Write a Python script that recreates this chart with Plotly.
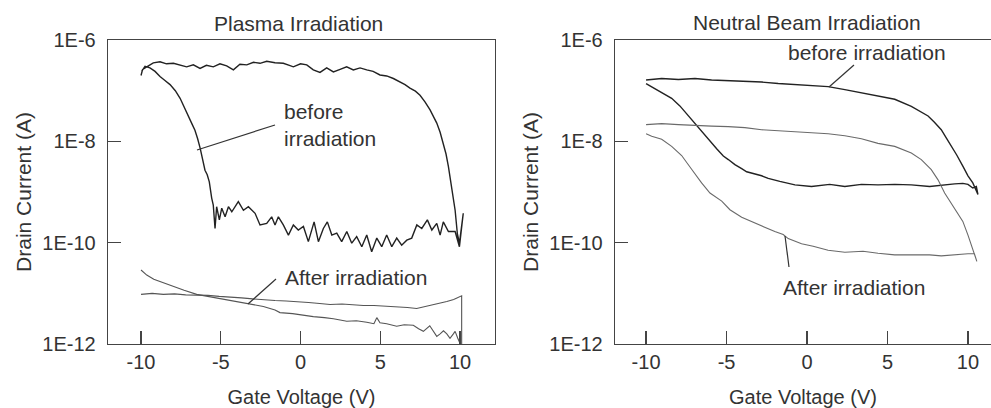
import plotly.graph_objects as go

# ---------------- data (gate voltage in V, drain current as log10(A)) ----------------
# Plasma irradiation, before irradiation: forward sweep (upper branch)
plasma_before_up_v = [-10.0, -9.9, -9.64, -9.23, -8.81, -8.4, -7.97, -7.55, -7.14, -6.72, -6.30, -5.9,
                      -5.47, -5.05, -4.63, -4.21, -3.8, -3.37, -2.95, -2.54, -2.12, -1.6, -1.08, -0.7,
                      -0.45, 0.0, 0.39, 0.80, 1.22, 1.64, 2.06, 2.48, 2.89, 3.31, 3.73, 4.15, 4.55,
                      4.98, 5.4, 5.82, 6.24, 6.55, 6.86, 7.2, 7.49, 7.8, 8.12, 8.33, 8.54, 8.75, 8.95,
                      9.12, 9.27, 9.48, 9.69, 9.83, 9.96]
plasma_before_up_logi = [-6.70, -6.58, -6.53, -6.45, -6.43, -6.47, -6.46, -6.50, -6.53, -6.49, -6.56, -6.50,
                         -6.53, -6.47, -6.51, -6.59, -6.48, -6.49, -6.44, -6.46, -6.42, -6.45, -6.46, -6.50,
                         -6.53, -6.47, -6.49, -6.59, -6.64, -6.55, -6.63, -6.58, -6.53, -6.59, -6.55, -6.59,
                         -6.62, -6.69, -6.71, -6.76, -6.82, -6.88, -6.95, -7.01, -7.09, -7.22, -7.38, -7.50,
                         -7.64, -7.82, -8.04, -8.25, -8.50, -8.89, -9.36, -9.82, -10.01]
# reverse sweep (lower, noisy branch, then the steep rise back to -10 V)
plasma_before_down_v = [10.2, 10.1, 9.96, 9.69, 9.27, 8.95, 8.75, 8.54, 8.23, 7.95, 7.60, 7.29, 6.97, 6.66,
                        6.34, 6.03, 5.72, 5.40, 5.09, 4.78, 4.46, 4.15, 3.84, 3.52, 3.21, 2.90, 2.58, 2.27,
                        1.96, 1.68, 1.43, 1.12, 0.85, 0.49, 0.18, -0.14, -0.45, -0.76, -1.08, -1.39, -1.60,
                        -1.81, -2.12, -2.54, -2.85, -3.27, -3.58, -3.90, -4.31, -4.52, -4.73, -4.94, -5.09,
                        -5.26, -5.36, -5.47,
                        -5.57, -5.72, -5.85, -5.99, -6.12, -6.29, -6.45, -6.62, -6.80, -6.95, -7.15, -7.35,
                        -7.55, -7.85, -8.18, -8.50, -8.81, -9.12, -9.44, -9.75, -9.96]
plasma_before_down_logi = [-9.42, -9.75, -10.08, -9.78, -9.78, -9.59, -9.85, -9.62, -9.75, -9.55, -9.72, -9.65,
                           -9.91, -9.95, -10.05, -9.91, -10.08, -9.85, -10.08, -9.91, -10.18, -9.85, -10.08,
                           -9.88, -10.01, -9.78, -9.98, -9.81, -9.85, -9.59, -9.72, -9.98, -9.59, -9.98, -9.68,
                           -9.75, -9.65, -9.85, -9.65, -9.49, -9.65, -9.49, -9.62, -9.65, -9.42, -9.29, -9.36,
                           -9.19, -9.39, -9.29, -9.49, -9.32, -9.55, -9.29, -9.72, -9.26,
                           -9.12, -8.80, -8.66, -8.57, -8.35, -8.14, -7.95, -7.78, -7.66, -7.56, -7.42, -7.28,
                           -7.15, -7.00, -6.88, -6.80, -6.72, -6.62, -6.55, -6.52, -6.62]

# Plasma irradiation, after irradiation (two sweeps)
plasma_after_a_v = [-10.0, -9.64, -9.2, -8.6, -7.97, -7.3, -6.51, -5.8, -5.0, -4.42, -3.6, -2.96, -2.33,
                    -1.6, -1.29, -0.5, 0.2, 0.8, 1.5, 2.06, 2.9, 3.5, 4.15, 4.6, 4.78, 4.98, 5.4, 6.03,
                    6.5, 7.07, 7.4, 7.7, 8.1, 8.54, 8.75, 8.96, 9.17, 9.37, 9.58, 9.69, 9.85, 10.0]
plasma_after_a_logi = [-10.54, -10.64, -10.72, -10.79, -10.87, -10.94, -11.02, -11.06, -11.10, -11.13,
                       -11.18, -11.21, -11.26, -11.33, -11.38, -11.40, -11.44, -11.46, -11.48, -11.50,
                       -11.55, -11.54, -11.57, -11.60, -11.48, -11.58, -11.60, -11.65, -11.62, -11.63,
                       -11.70, -11.75, -11.64, -11.85, -11.80, -11.74, -11.80, -11.89, -11.80, -11.75,
                       -11.88, -11.99]
plasma_after_b_v = [-10.0, -9.3, -8.6, -7.9, -7.2, -6.51, -5.8, -5.1, -4.42, -3.7, -3.0, -2.33, -1.6,
                    -0.9, -0.24, 0.5, 1.2, 1.85, 2.6, 3.3, 3.94, 4.6, 5.3, 6.03, 6.7, 7.28, 7.7, 8.12,
                    8.6, 9.17, 9.6, 10.1, 10.1]
plasma_after_b_logi = [-11.02, -11.00, -11.02, -11.01, -11.03, -11.03, -11.04, -11.06, -11.07, -11.09,
                       -11.11, -11.13, -11.14, -11.15, -11.16, -11.18, -11.20, -11.22, -11.21, -11.23,
                       -11.24, -11.24, -11.25, -11.26, -11.28, -11.30, -11.27, -11.24, -11.21, -11.16,
                       -11.12, -11.05, -12.0]

# Neutral beam irradiation, before irradiation
beam_before_v = [-10.0, -9.03, -7.99, -6.96, -5.93, -4.89, -3.86, -2.82, -1.79, -0.75, 0.28, 1.31, 2.35,
                 3.38, 4.41, 5.45, 6.48, 7.0, 7.52, 7.9, 8.34, 8.65, 8.96, 9.3, 9.68, 10.0, 10.3, 10.62,
                 10.52, 10.3, 10.0, 9.68, 9.17, 8.55, 7.62, 6.48, 5.45, 4.41, 3.38, 2.35, 1.41, 0.28,
                 -0.75, -1.69, -2.41, -2.82, -3.44, -3.75, -4.06, -4.48, -4.89, -5.2, -5.6, -5.93, -6.55,
                 -7.06, -7.5, -7.9, -8.41, -9.03, -9.65, -10.0]
beam_before_logi = [-6.79, -6.76, -6.78, -6.76, -6.79, -6.80, -6.81, -6.83, -6.86, -6.88, -6.90, -6.92,
                    -6.98, -7.04, -7.11, -7.17, -7.31, -7.40, -7.50, -7.62, -7.77, -7.93, -8.08, -8.27,
                    -8.49, -8.68, -8.82, -9.05,
                    -8.89, -8.92, -8.85, -8.83, -8.84, -8.86, -8.89, -8.86, -8.85, -8.86, -8.85, -8.89,
                    -8.85, -8.89, -8.86, -8.79, -8.73, -8.68, -8.62, -8.60, -8.54, -8.46, -8.36, -8.29,
                    -8.15, -8.03, -7.80, -7.62, -7.45, -7.30, -7.15, -7.04, -6.93, -6.86]

# Neutral beam irradiation, after irradiation
beam_after_v = [-10.0, -9.03, -7.99, -6.96, -5.93, -4.89, -3.86, -2.82, -1.79, -0.75, 0.28, 1.31, 2.35,
                3.38, 4.41, 5.45, 6.48, 7.10, 7.72, 8.14, 8.55, 8.96, 9.38, 9.68, 10.0, 10.3, 10.55,
                10.4, 10.0, 9.17, 8.34, 7.62, 6.48, 5.45, 4.41, 3.48, 2.35, 1.31, 0.38, -0.34, -1.17,
                -1.48, -2.0, -2.72, -3.24, -4.06, -4.79, -5.30, -6.03, -6.55, -7.17, -7.79, -8.41,
                -9.03, -9.65, -10.0]
beam_after_logi = [-7.67, -7.65, -7.67, -7.69, -7.70, -7.71, -7.73, -7.77, -7.79, -7.82, -7.83, -7.85,
                   -7.89, -7.95, -8.04, -8.10, -8.23, -8.36, -8.56, -8.76, -9.02, -9.22, -9.42, -9.58,
                   -9.85, -10.12, -10.37,
                   -10.22, -10.22, -10.24, -10.26, -10.24, -10.24, -10.24, -10.21, -10.17, -10.19,
                   -10.15, -10.07, -10.02, -9.92, -9.84, -9.78, -9.68, -9.62, -9.50, -9.35, -9.18,
                   -9.02, -8.82, -8.55, -8.28, -8.10, -7.96, -7.90, -7.85]

x_tick_vals = [-10, -5, 0, 5, 10]
x_tick_text = ["-10", "-5", "0", "5", "10"]
y_tick_vals = [1e-12, 1e-10, 1e-8, 1e-6]
y_tick_text = ["1E-12", "1E-10", "1E-8", "1E-6"]

# ---------------- figure ----------------
W, H = 991, 408
FONT = "Liberation Sans, Arial, sans-serif"
TXT = "#333333"
AX = "#444444"
DARK = "#222222"
GRAY = "#555555"
GRAY2 = "#6a6a6a"


def px(x):
    return x / W


def py(y):
    return 1 - y / H


def cur(logs):
    return [10 ** v for v in logs]


fig = go.Figure()
fig.add_trace(go.Scatter(x=plasma_before_up_v + plasma_before_down_v,
                         y=cur(plasma_before_up_logi + plasma_before_down_logi),
                         mode="lines", line=dict(color=DARK, width=1.4), xaxis="x", yaxis="y"))
fig.add_trace(go.Scatter(x=plasma_after_a_v, y=cur(plasma_after_a_logi),
                         mode="lines", line=dict(color=GRAY, width=1.1), xaxis="x", yaxis="y"))
fig.add_trace(go.Scatter(x=plasma_after_b_v, y=cur(plasma_after_b_logi),
                         mode="lines", line=dict(color=GRAY, width=1.1), xaxis="x", yaxis="y"))
fig.add_trace(go.Scatter(x=beam_before_v, y=cur(beam_before_logi),
                         mode="lines", line=dict(color=DARK, width=1.4), xaxis="x2", yaxis="y2"))
fig.add_trace(go.Scatter(x=beam_after_v, y=cur(beam_after_logi),
                         mode="lines", line=dict(color=GRAY2, width=1.1), xaxis="x2", yaxis="y2"))

common_x = dict(tickvals=x_tick_vals, ticktext=x_tick_text, ticks="inside", ticklen=13,
                tickwidth=1.2, tickcolor=AX, showline=True, linecolor=AX, linewidth=1.3,
                showgrid=False, zeroline=False, ticklabelstandoff=0, automargin=False,
                tickfont=dict(family=FONT, size=20, color=TXT),
                title=dict(text="Gate Voltage (V)", font=dict(family=FONT, size=20, color=TXT),
                           standoff=20))
common_y = dict(type="log", range=[-12, -6], tickvals=y_tick_vals, ticktext=y_tick_text,
                ticks="inside", ticklen=13, tickwidth=1.2, tickcolor=AX, showline=True,
                linecolor=AX, linewidth=1.3, showgrid=False, zeroline=False,
                ticklabelstandoff=7, automargin=False,
                tickfont=dict(family=FONT, size=20, color=TXT),
                title=dict(text="Drain Current (A)", font=dict(family=FONT, size=21, color=TXT),
                           standoff=5))

y_dom = [py(344), py(40)]
fig.update_layout(
    width=W, height=H, autosize=False,
    margin=dict(l=0, r=0, t=0, b=0, pad=0),
    paper_bgcolor="white", plot_bgcolor="white",
    showlegend=False,
    xaxis=dict(**common_x, domain=[px(108), px(495)], range=[-12.07, 12.19], mirror=True, anchor="y"),
    yaxis=dict(**common_y, domain=y_dom, mirror=True, anchor="x"),
    xaxis2=dict(**common_x, domain=[px(615), 1.0], range=[-11.93, 11.43], mirror=True, anchor="y2"),
    yaxis2=dict(**common_y, domain=y_dom, mirror=False, anchor="x2"),
)

ann_font = dict(family=FONT, size=21, color=TXT)
annotations = [
    dict(text="Plasma Irradiation", x=px(298), y=py(23), font=dict(family=FONT, size=21, color=TXT),
         xanchor="center", yanchor="middle"),
    dict(text="Neutral Beam Irradiation", x=px(807), y=py(22), font=dict(family=FONT, size=21, color=TXT),
         xanchor="center", yanchor="middle"),
    dict(text="before<br>irradiation", x=px(282), y=py(125), font=ann_font, align="left",
         xanchor="left", yanchor="middle"),
    dict(text="After irradiation", x=px(283), y=py(277), font=ann_font, xanchor="left", yanchor="middle"),
    dict(text="before irradiation", x=px(786), y=py(53), font=ann_font, xanchor="left", yanchor="middle"),
    dict(text="After irradiation", x=px(781), y=py(287), font=ann_font, xanchor="left", yanchor="middle"),
]
for a in annotations:
    a.update(xref="paper", yref="paper", showarrow=False)
fig.update_layout(annotations=annotations)

leaders = [((275, 125), (197, 150)), ((276, 279), (248, 304)),
           ((854, 65), (829, 87)), ((789, 267), (785, 236))]
for (x0, y0), (x1, y1) in leaders:
    fig.add_shape(type="line", xref="paper", yref="paper", x0=px(x0), y0=py(y0), x1=px(x1), y1=py(y1),
                  line=dict(color="#333333", width=1.2))

fig.write_html("out.html", config={"displayModeBar": False, "staticPlot": True},
               post_script="document.body.style.margin='0px';document.body.style.overflow='hidden';")
